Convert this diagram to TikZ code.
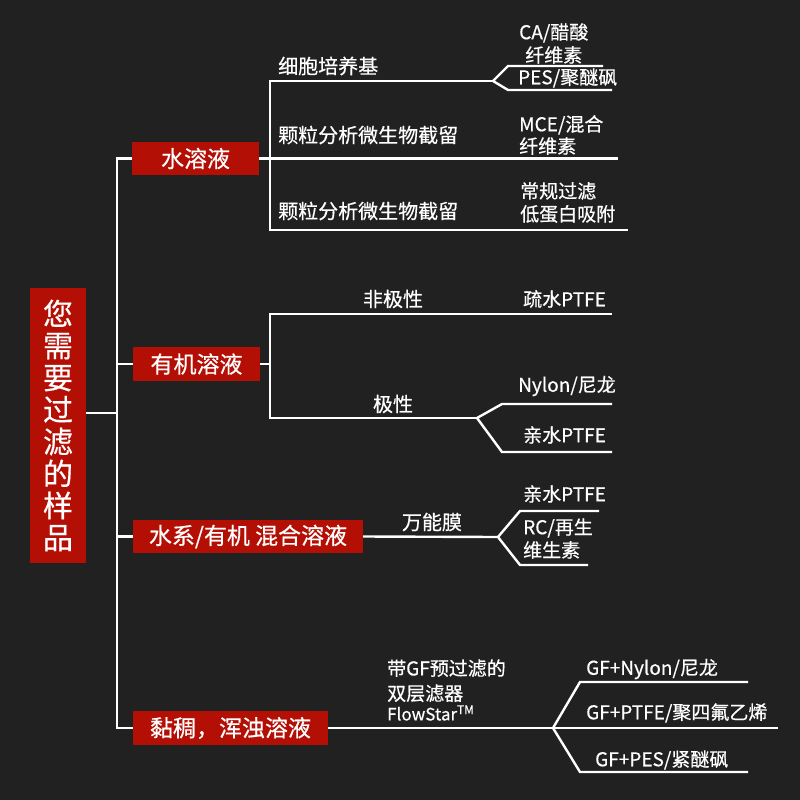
\documentclass[tikz,border=0pt]{standalone}
\usepackage{fontspec}
\setmainfont{Noto Sans CJK SC}[FakeBold=0.5]
\definecolor{board}{HTML}{212121}
\definecolor{boxred}{HTML}{B40F05}
\colorlet{wire}{white}
\tikzset{
  filled/.style={fill=board},
  link/.style={draw=wire, line width=2.4pt, line join=miter}
  }
\tikzstyle{catbox}=[fill=boxred, text=white, inner sep=0pt, minimum height=34pt, font=\fontsize{23}{26}\selectfont]
\tikzstyle{usage}=[text=white, inner sep=0pt, font=\fontsize{20}{24}\selectfont]
\tikzstyle{membrane}=[text=white, inner sep=0pt, anchor=west, align=left, font=\fontsize{19}{23}\selectfont]

\begin{document}
\begin{tikzpicture}[x=1pt, y=-1pt]

  % The page and its background
  \useasboundingbox (0,0) rectangle (800,800);
  \fill[filled] (0,0) rectangle (800,800);

  % The question and the four kinds of sample
  \node[catbox, minimum width=56pt, minimum height=275pt, align=center,
        font=\fontsize{30}{32}\selectfont] (root) at (58,425.5)
        {您\\需\\要\\过\\滤\\的\\样\\品};
  \node[catbox, minimum width=127pt, minimum height=33pt] (water) at (195.5,158.5) {水溶液};
  \node[catbox, minimum width=127pt] (organic) at (196.5,364) {有机溶液};
  \node[catbox, minimum width=230pt, minimum height=33pt] (mixed) at (248,536.5) {水系/有机 混合溶液};
  \node[catbox, minimum width=195pt] (viscous) at (230.5,728) {黏稠，浑浊溶液};

  % Branch points and open line ends
  \coordinate (trunk) at (117,413);
  \foreach \pos/\name in {{(270,230)/b1}, {(618,158.5)/w2}, {(628,230)/w3},
      {(493,81)/f1}, {(508,66)/f1a}, {(603,66)/w1a}, {(508,90)/f1b}, {(612,90)/w1b},
      {(270,418)/b2}, {(612,314)/o1}, {(477,418)/f2},
      {(502,404)/f2a}, {(612,404)/o2a}, {(502,452)/f2b}, {(612,452)/o2b},
      {(498,537)/f3}, {(520,511)/f3a}, {(599,511)/m1a}, {(520,565)/f3b}, {(588,565)/m1b},
      {(553,728)/f4}, {(778,728)/v2}, {(580,682)/f4a}, {(748,682)/v1},
      {(580,772)/f4b}, {(748,772)/v3}}
    \node[coordinate] (\name) at \pos {};

  % The trunk
  \path[link] (root.east |- trunk) -- (trunk);
  \path[link] (water.west) -| (trunk) |- (viscous.west);
  \foreach \kind in {organic, mixed}
    \path[link] (\kind.west) -- (\kind.west -| trunk);

  % The branches
  \path[link] (water.east) -- (w2);
  \path[link] (f1) -| (b1) -- (w3);
  \path[link] (w1a) -- (f1a) -- (f1) -- (f1b) -- (w1b);
  \path[link] (organic.east) -- (organic.east -| b2);
  \path[link] (o1) -| (b2) -- (f2);
  \path[link] (o2a) -- (f2a) -- (f2) -- (f2b) -- (o2b);
  \path[link] (mixed.east) -- (f3);
  \path[link] (m1a) -- (f3a) -- (f3) -- (f3b) -- (m1b);
  \path[link] (viscous.east) -- (f4) -- (v2);
  \path[link] (v1) -- (f4a) -- (f4) -- (f4b) -- (v3);

  % What the sample is for
  \node[usage, anchor=west] (u1) at (278,66) {细胞培养基};
  \node[usage, anchor=west] (u2) at (278,135) {颗粒分析微生物截留};
  \node[usage, anchor=west] (u3) at (278,211) {颗粒分析微生物截留};
  \node[usage] (u4) at (393,299) {非极性};
  \node[usage] (u5) at (393,404) {极性};
  \node[usage] (u6) at (432,522) {万能膜};
  \node[usage, anchor=west, align=left, font=\fontsize{19}{25}\selectfont] (u7) at (387,690)
    {带GF预过滤的\\双层滤器\\[-5pt]{\fontsize{17}{20}\selectfont FlowStar\textsuperscript{TM}}};

  % The membranes
  \node[membrane, align=center] (n1) at (519,43.5) {CA/醋酸\\纤维素};
  \node[membrane] (n2) at (518,78) {PES/聚醚砜};
  \node[membrane, font=\fontsize{19}{22}\selectfont] (n3) at (519,135) {MCE/混合\\纤维素};
  \node[membrane] (n4) at (520,202.5) {常规过滤\\低蛋白吸附};
  \node[membrane] (n5) at (523,299) {疏水PTFE};
  \node[membrane] (n6) at (518,386) {Nylon/尼龙};
  \node[membrane] (n7) at (523,435) {亲水PTFE};
  \node[membrane] (n8) at (523,494) {亲水PTFE};
  \node[membrane] (n9) at (523,538.5) {RC/再生\\维生素};
  \node[membrane] (n10) at (586,669) {GF+Nylon/尼龙};
  \node[membrane] (n11) at (586,713) {GF+PTFE/聚四氟乙烯};
  \node[membrane] (n12) at (595,760) {GF+PES/紧醚砜};
\end{tikzpicture}
\end{document}
